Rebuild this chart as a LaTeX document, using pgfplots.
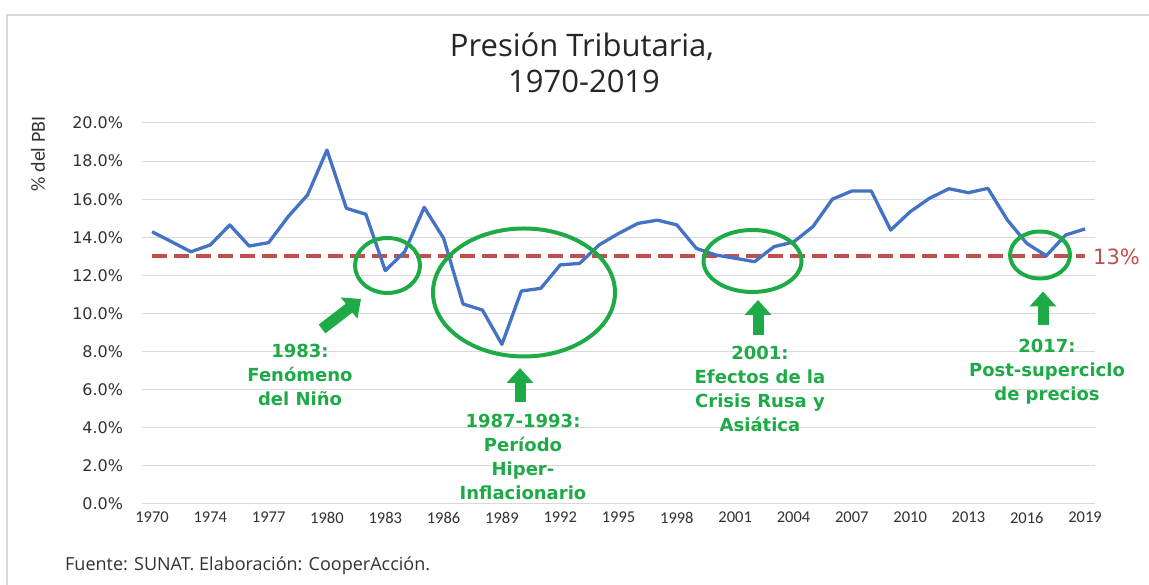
\documentclass[border=0pt]{standalone}
\usepackage{pgfplots}
\pgfplotsset{compat=1.18}
\usepackage{fontspec}
\setmainfont{Open Sans}
\newfontfamily\carl{Carlito}
\newfontfamily\dejavu{DejaVu Sans}
\usetikzlibrary{arrows.meta}
\definecolor{lblue}{RGB}{68,114,196}
\definecolor{lred}{RGB}{192,80,77}
\definecolor{lgreen}{RGB}{30,170,70}
\definecolor{lgrid}{RGB}{217,217,217}
\definecolor{txt}{RGB}{50,50,50}

\pgfplotstableread{
idx val
0 14.29
1 13.77
2 13.24
3 13.60
4 14.65
5 13.54
6 13.72
7 15.08
8 16.22
9 18.58
10 15.52
11 15.21
12 12.25
13 13.24
14 15.57
15 13.95
16 10.50
17 10.18
18 8.38
19 11.18
20 11.32
21 12.55
22 12.63
23 13.60
24 14.20
25 14.73
26 14.90
27 14.65
28 13.42
29 13.07
30 12.90
31 12.72
32 13.51
33 13.75
34 14.56
35 16.00
36 16.43
37 16.43
38 14.38
39 15.34
40 16.05
41 16.55
42 16.34
43 16.57
44 14.91
45 13.68
46 13.03
47 14.12
48 14.44
}\presion

\begin{document}
\begin{tikzpicture}[x=1pt,y=1pt]
\useasboundingbox (0,0) rectangle (1149,585);
\fill[white] (0,0) rectangle (1149,585);
\draw[line width=1.5pt, black!15] (7,-5) -- (7,570) -- (1160,570);
\begin{axis}[
  at={(142.3pt,81pt)}, anchor=south west,
  scale only axis, width=952.5pt, height=381pt,
  xmin=-0.5, xmax=48.5, ymin=0, ymax=20,
  ytick={0,2,...,20},
  xtick={0,3,...,48},
  xticklabels={1970,1974,1977,1980,1983,1986,1989,1992,1995,1998,2001,2004,2007,2010,2013,2016,2019},
  ymajorgrids, grid style={lgrid, line width=1pt},
  axis line style={draw=none},
  major tick length=0pt,
  /pgf/number format/assume math mode=true,
  yticklabel={\pgfmathprintnumber[fixed,fixed zerofill,precision=1]{\tick}\%},
  yticklabel style={font=\dejavu\fontsize{16}{18}\selectfont, text=txt, inner sep=0pt, xshift=-19pt, anchor=east},
  xticklabel style={font=\carl\fontsize{16.5}{18}\selectfont, text=txt, inner sep=0pt, yshift=-8pt, anchor=north},
  clip=false,
]
\addplot[lred, line width=4pt, dash pattern=on 15pt off 7pt] coordinates {(0,13) (48,13)};
\addplot[lblue, line width=3.3pt, line join=round] table[x=idx, y=val] {\presion};
\end{axis}

% y label
\node[rotate=90, font=\carl\fontsize{20}{22}\selectfont, text=txt] at (38,431) {\% del PBI};
% title
\node[anchor=base, font=\fontsize{31}{36}\selectfont, text=black!85] at (582,528) {Presión Tributaria,};
\node[anchor=base, font=\fontsize{31}{36}\selectfont, text=black!85] at (584,492.3) {1970-2019};
% footer
\node[anchor=base west, inner sep=0pt, font=\fontsize{18}{20}\selectfont, text=txt] at (65,14) {Fuente: SUNAT. Elaboración: CooperAcción.};
% 13% label
\node[anchor=west, inner sep=0pt, font=\dejavu\fontsize{21}{24}\selectfont, text=lred] at (1093,328.5) {13\%};

\begin{scope}[x=1pt, y=-1pt, yshift=585pt]
\begin{scope}[lgreen, line width=4pt]
\draw (387.5,265.5) ellipse [x radius=32.5pt, y radius=27.5pt];
\draw (524,292.5) ellipse [x radius=91pt, y radius=64pt];
\draw (752.5,261) ellipse [x radius=49pt, y radius=31pt];
\draw (1040,255) ellipse [x radius=30pt, y radius=23.5pt];
\end{scope}
\begin{scope}[lgreen, line width=11pt]
\draw[-{Triangle[width=26pt, length=15pt]}] (322,329) -- (361,299);
\draw[-{Triangle[width=26pt, length=15pt]}] (520,402) -- (520,368);
\draw[-{Triangle[width=26pt, length=15pt]}] (758,335) -- (758,300);
\draw[-{Triangle[width=26pt, length=15pt]}] (1043,325) -- (1043,291.5);
\end{scope}
\begin{scope}[every node/.style={align=center, text=lgreen, font=\dejavu\bfseries\fontsize{18}{24}\selectfont}]
\node at (300,375) {1983:\\Fenómeno\\del Niño};
\node at (523,456.5) {1987-1993:\\Período\\Hiper-\\Inflacionario};
\node at (760,389) {2001:\\Efectos de la\\Crisis Rusa y\\Asiática};
\node at (1047,372) {2017:\\Post-superciclo\\de precios};
\end{scope}
\end{scope}
\end{tikzpicture}
\end{document}
